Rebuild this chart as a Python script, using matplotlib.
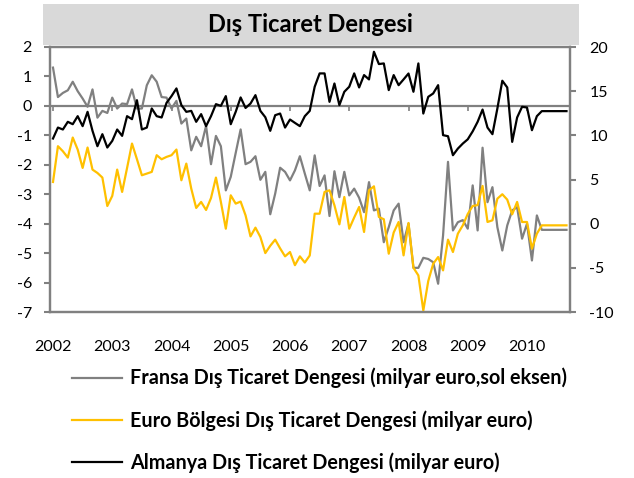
import matplotlib
matplotlib.use("Agg")
import matplotlib.pyplot as plt
from matplotlib.patches import Rectangle
import numpy as np

plt.rcParams['font.family'] = ['Lato', 'DejaVu Sans']
plt.rcParams['axes.unicode_minus'] = False

# monthly balances, Jan 2002 - Sep 2010
fransa = [1.30, 0.30, 0.44, 0.53, 0.82, 0.50, 0.25, -0.03, 0.56, -0.40, -0.17, -0.24,
          0.28, -0.09, 0.08, 0.06, 0.56, -0.09, -0.09, 0.70, 1.04, 0.82, 0.30, 0.28,
          -0.09, 0.17, -0.60, -0.43, -1.51, -1.05, -1.37, -0.68, -1.98, -1.02, -1.37, -2.87,
          -2.41, -1.60, -0.80, -1.98, -1.90, -1.71, -2.51, -2.24, -3.68, -2.98, -2.10, -2.24,
          -2.53, -2.19, -1.71, -2.30, -2.87, -1.68, -2.72, -2.36, -3.74, -2.22, -3.10, -2.24,
          -3.04, -2.81, -3.12, -3.61, -2.59, -3.55, -3.49, -4.63, -4.12, -3.55, -3.32, -4.63,
          -4.00, -5.50, -5.50, -5.16, -5.20, -5.31, -6.04, -4.40, -1.90, -4.23, -3.95, -3.88,
          -4.17, -2.70, -4.23, -1.42, -3.27, -2.76, -4.12, -4.91, -4.06, -3.55, -3.44, -4.51,
          -4.00, -5.25, -3.72, -4.21, -4.21, -4.21, -4.21, -4.21, -4.21]

euro = [4.72, 8.77, 8.20, 7.48, 9.75, 8.39, 6.31, 8.62, 6.12, 5.74, 5.22, 2.00,
        3.14, 6.12, 3.59, 6.30, 9.07, 7.30, 5.48, 5.67, 5.86, 7.75, 7.29, 7.56,
        7.75, 8.39, 4.91, 6.80, 3.97, 1.78, 2.46, 1.55, 2.90, 5.22, 2.46, -0.57,
        3.21, 2.27, 2.50, 0.94, -1.44, -0.45, -1.51, -3.33, -2.50, -1.81, -2.80, -3.70,
        -3.21, -4.70, -3.70, -4.40, -3.60, 1.13, 1.13, 3.59, 3.78, 2.08, -0.08, 3.02,
        -0.57, 0.70, 1.89, -0.94, 3.78, 4.23, 0.76, 0.50, -3.40, -1.00, 0.19, -3.59,
        0.08, -4.99, -5.86, -9.83, -6.50, -4.54, -3.78, -5.29, -1.81, -3.21, -1.13, -0.19,
        1.10, 2.00, 2.10, 4.27, 0.19, 0.38, 2.83, 3.33, 2.72, 1.06, 2.46, 0.19,
        0.19, -2.83, -1.13, -0.19, -0.19, -0.19, -0.19, -0.19, -0.19]

almanya = [9.64, 10.88, 10.66, 11.53, 11.26, 12.17, 11.04, 12.66, 10.51, 8.77, 10.13, 8.62,
           9.37, 10.66, 9.94, 12.17, 11.83, 13.98, 10.66, 10.88, 13.04, 12.17, 12.02, 13.68,
           14.44, 15.31, 13.42, 12.66, 12.77, 11.53, 12.40, 11.04, 12.17, 13.53, 13.34, 14.44,
           11.26, 12.66, 14.29, 13.10, 13.60, 14.55, 12.77, 12.05, 10.51, 12.28, 12.47, 10.88,
           11.79, 11.41, 11.04, 12.17, 12.77, 15.50, 17.01, 17.01, 13.79, 15.87, 13.42, 14.93,
           15.50, 17.01, 15.42, 16.82, 16.33, 19.46, 18.07, 18.14, 15.12, 16.82, 15.68, 16.33,
           17.00, 14.93, 18.14, 12.47, 14.36, 14.74, 15.68, 10.02, 9.90, 7.75, 8.50, 9.07,
           9.55, 10.45, 11.53, 12.92, 10.88, 10.13, 13.04, 16.18, 15.42, 9.26, 12.02, 13.23,
           13.15, 10.58, 12.17, 12.74, 12.74, 12.74, 12.74, 12.74, 12.74]

years = list(range(2002, 2011))
labels = ["Fransa Dış Ticaret Dengesi (milyar euro,sol eksen)",
          "Euro Bölgesi Dış Ticaret Dengesi (milyar euro)",
          "Almanya Dış Ticaret Dengesi (milyar euro)"]

gray = "#808080"
gold = "#FFC000"

t = 2002 + np.arange(len(fransa)) / 12.0

fig = plt.figure(figsize=(6.34, 4.78), dpi=100)
ax = fig.add_axes([50 / 634, 1 - 312 / 478, 520 / 634, 265 / 478])
ax2 = ax.twinx()

l1, = ax.plot(t, fransa, color=gray, lw=1.6)
l2, = ax2.plot(t, euro, color=gold, lw=1.6)
l3, = ax2.plot(t, almanya, color="black", lw=1.6)

ax.set_xlim(2002 - 3 / 59.25, 2002 + 517 / 59.25)
ax.set_ylim(-7, 2)
ax2.set_ylim(-10, 20)
ax.set_yticks(range(-7, 3))
ax2.set_yticks(range(-10, 21, 5))

# zero line doubles as the category axis
ax.axhline(0, color=gray, lw=1.6, zorder=1)
ax.vlines(years, -0.17, 0, color=gray, lw=1.2)

ax.set_xticks(years)
ax.tick_params(axis='x', length=0, pad=20, labelsize=11.5)
ax.tick_params(axis='y', direction='out', length=4, width=1.5, color=gray,
               pad=9, labelsize=11.5)
ax2.tick_params(axis='y', direction='out', length=4, width=1.5, color=gray,
                pad=10, labelsize=11.5)

for a in (ax, ax2):
    for s in a.spines.values():
        s.set_color(gray)
        s.set_linewidth(1.6)

# title box
fig.patches.append(Rectangle((43 / 634, 1 - 45 / 478), 536 / 634, 41 / 478,
                             transform=fig.transFigure, facecolor="#d9d9d9",
                             edgecolor="none", zorder=0))
fig.text(310 / 634, 1 - 25 / 478, "Dış Ticaret Dengesi", ha="center", va="center",
         fontsize=17, fontweight="bold")

fig.legend([l1, l2, l3], labels, loc="upper left", bbox_to_anchor=(62 / 634, 1 - 358 / 478),
           frameon=False, handlelength=2.55, handletextpad=0.4,
           labelspacing=1.1, borderpad=0, prop={'weight': 'bold', 'size': 14.2})

fig.savefig("out.png", dpi=100)
